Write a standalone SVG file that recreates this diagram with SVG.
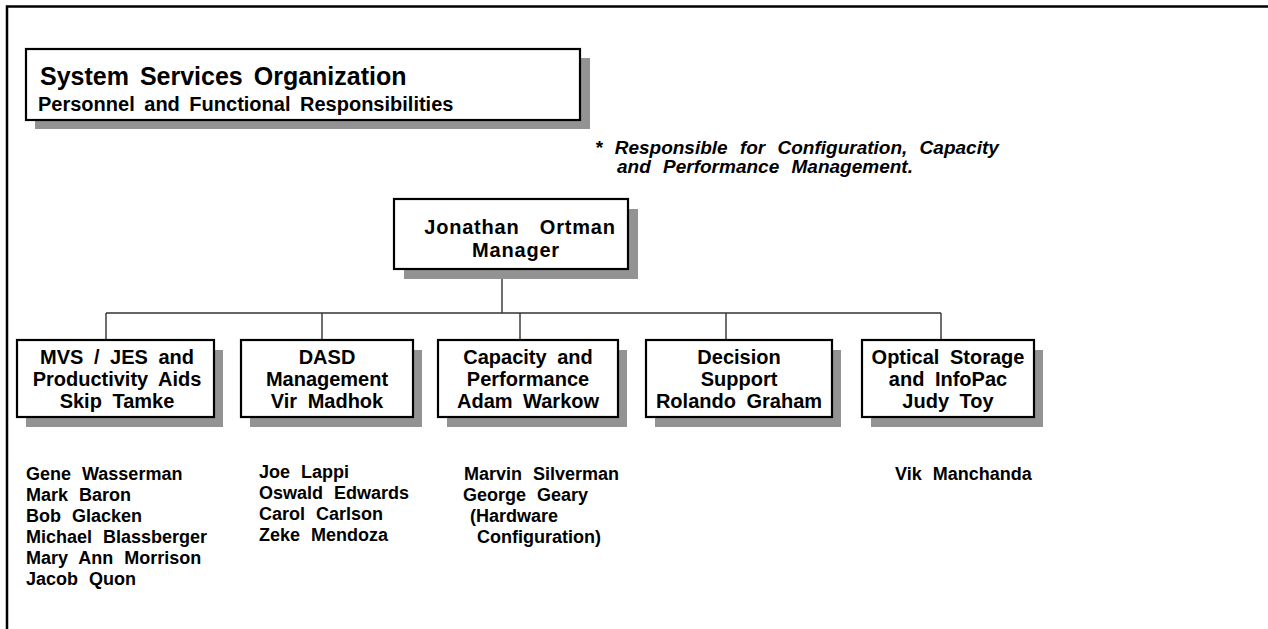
<svg xmlns="http://www.w3.org/2000/svg" width="1268" height="629" viewBox="0 0 1268 629">
<style>
text{font-family:"Liberation Sans",Arial,sans-serif;font-weight:bold;fill:#000}
.box{fill:#fff;stroke:#000;stroke-width:2.2}
.shadow{fill:#939393}
.bt{font-size:20px;text-anchor:middle;word-spacing:5px}
.nm{font-size:18px;word-spacing:6px}
.mg{font-size:20px;text-anchor:middle;letter-spacing:0.8px}
.conn{stroke:#333;stroke-width:1.4;fill:none}
</style>
<rect width="1268" height="629" fill="#fff"/>
<g id="frame">
<path d="M7,629 V6.5 H1268" fill="none" stroke="#000" stroke-width="2.5"/>
</g>
<g id="title">
<rect class="shadow" x="35" y="58" width="555" height="71"/>
<rect class="box" x="26" y="49" width="554" height="71"/>
<text x="40" y="85" font-size="25" style="word-spacing:4px">System Services Organization</text>
<text x="38" y="111" font-size="20" style="word-spacing:4px">Personnel and Functional Responsibilities</text>
</g>
<g id="footnote">
<text x="595" y="154" font-size="19" font-style="italic" style="word-spacing:7px">* Responsible for Configuration, Capacity</text>
<text x="617" y="173" font-size="19" font-style="italic" style="word-spacing:7px">and Performance Management.</text>
</g>
<g id="connectors">
<path class="conn" d="M502,269 V313 M106,313 H941 M106,313 V340 M322,313 V340 M520,313 V340 M726,313 V340 M941,313 V340"/>
</g>
<g id="manager">
<rect class="shadow" x="404" y="209" width="234" height="70"/>
<rect class="box" x="394" y="199" width="234" height="70"/>
<text class="mg" x="520" y="234" style="word-spacing:14px">Jonathan Ortman</text>
<text class="mg" x="516" y="257">Manager</text>
</g>
<g id="mvs">
<rect class="shadow" x="26" y="350" width="197" height="77"/>
<rect class="box" x="17" y="340" width="197" height="77"/>
<text class="bt" x="117" y="364">MVS / JES and</text>
<text class="bt" x="117" y="386">Productivity Aids</text>
<text class="bt" x="117" y="408">Skip Tamke</text>
</g>
<g id="dasd">
<rect class="shadow" x="250" y="350" width="172" height="77"/>
<rect class="box" x="241" y="340" width="172" height="77"/>
<text class="bt" x="327" y="364">DASD</text>
<text class="bt" x="327" y="386">Management</text>
<text class="bt" x="327" y="408">Vir Madhok</text>
</g>
<g id="capacity">
<rect class="shadow" x="447" y="350" width="180" height="77"/>
<rect class="box" x="438" y="340" width="180" height="77"/>
<text class="bt" x="528" y="364">Capacity and</text>
<text class="bt" x="528" y="386">Performance</text>
<text class="bt" x="528" y="408">Adam Warkow</text>
</g>
<g id="decision">
<rect class="shadow" x="655" y="350" width="186" height="77"/>
<rect class="box" x="646" y="340" width="186" height="77"/>
<text class="bt" x="739" y="364">Decision</text>
<text class="bt" x="739" y="386">Support</text>
<text class="bt" x="739" y="408">Rolando Graham</text>
</g>
<g id="optical">
<rect class="shadow" x="871" y="350" width="172" height="77"/>
<rect class="box" x="862" y="340" width="172" height="77"/>
<text class="bt" x="948" y="364">Optical Storage</text>
<text class="bt" x="948" y="386">and InfoPac</text>
<text class="bt" x="948" y="408">Judy Toy</text>
</g>
<g id="names-mvs">
<text class="nm" x="26" y="480">Gene Wasserman</text>
<text class="nm" x="26" y="501">Mark Baron</text>
<text class="nm" x="26" y="522">Bob Glacken</text>
<text class="nm" x="26" y="543">Michael Blassberger</text>
<text class="nm" x="26" y="564">Mary Ann Morrison</text>
<text class="nm" x="26" y="585">Jacob Quon</text>
</g>
<g id="names-dasd">
<text class="nm" x="259" y="478">Joe Lappi</text>
<text class="nm" x="259" y="499">Oswald Edwards</text>
<text class="nm" x="259" y="520">Carol Carlson</text>
<text class="nm" x="259" y="541">Zeke Mendoza</text>
</g>
<g id="names-capacity">
<text class="nm" x="464" y="480">Marvin Silverman</text>
<text class="nm" x="463" y="501">George Geary</text>
<text class="nm" x="470" y="522">(Hardware</text>
<text class="nm" x="477" y="543">Configuration)</text>
</g>
<g id="names-optical">
<text class="nm" x="895" y="480">Vik Manchanda</text>
</g>
</svg>
